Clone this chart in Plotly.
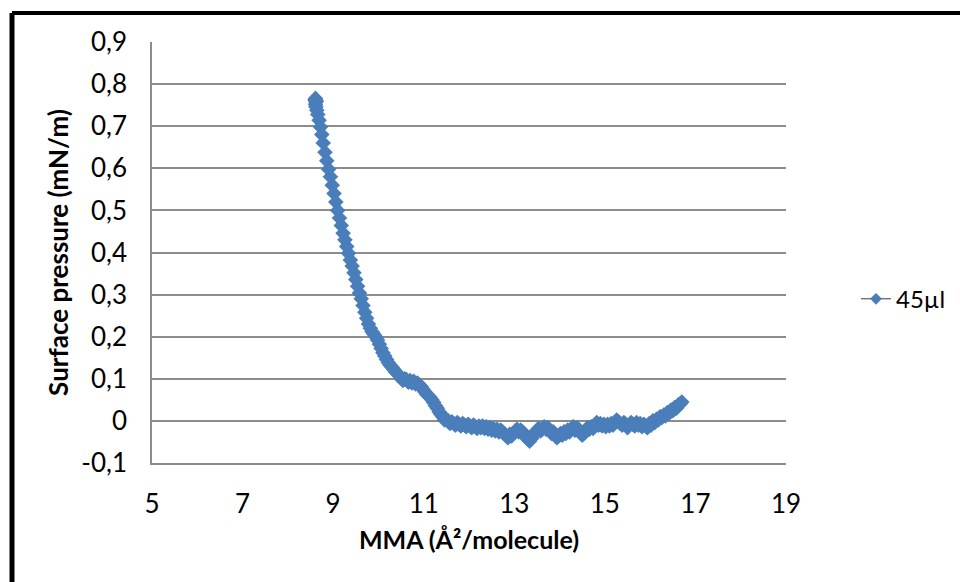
import plotly.graph_objects as go

# MMA (Å²/molecule), compression from large to small area
mma = [16.70, 16.66, 16.62, 16.58, 16.54, 16.50, 16.46, 16.42, 16.38, 16.34,
       16.30, 16.26, 16.22, 16.18, 16.14, 16.10, 16.06, 16.02, 15.98, 15.94,
       15.90, 15.86, 15.82, 15.78, 15.74, 15.70, 15.66, 15.62, 15.58, 15.54,
       15.50, 15.46, 15.42, 15.38, 15.34, 15.30, 15.26, 15.22, 15.18, 15.14,
       15.10, 15.06, 15.02, 14.98, 14.94, 14.90, 14.86, 14.82, 14.78, 14.74,
       14.70, 14.66, 14.62, 14.58, 14.54, 14.50, 14.46, 14.42, 14.38, 14.34,
       14.30, 14.26, 14.22, 14.18, 14.14, 14.10, 14.06, 14.02, 13.98, 13.94,
       13.90, 13.86, 13.82, 13.78, 13.74, 13.70, 13.66, 13.62, 13.58, 13.54,
       13.50, 13.46, 13.42, 13.38, 13.34, 13.30, 13.26, 13.22, 13.18, 13.14,
       13.10, 13.06, 13.02, 12.98, 12.94, 12.90, 12.86, 12.82, 12.78, 12.74,
       12.70, 12.66, 12.62, 12.58, 12.54, 12.50, 12.46, 12.42, 12.38, 12.34,
       12.30, 12.26, 12.22, 12.18, 12.14, 12.10, 12.06, 12.02, 11.98, 11.94,
       11.90, 11.86, 11.82, 11.78, 11.74, 11.70, 11.66, 11.62, 11.58, 11.54,
       11.50, 11.46, 11.42, 11.38, 11.34, 11.30, 11.26, 11.22, 11.18, 11.14,
       11.10, 11.06, 11.02, 10.98, 10.94, 10.90, 10.86, 10.82, 10.78, 10.74,
       10.70, 10.66, 10.62, 10.58, 10.54, 10.50, 10.46, 10.42, 10.38, 10.34,
       10.30, 10.26, 10.22, 10.18, 10.14, 10.10, 10.06, 10.02, 9.98, 9.94,
       9.90, 9.86, 9.82, 9.78, 9.74, 9.70, 9.66, 9.62, 9.58, 9.54,
       9.50, 9.46, 9.42, 9.38, 9.34, 9.30, 9.26, 9.22, 9.18, 9.14,
       9.10, 9.06, 9.02, 8.98, 8.94, 8.90, 8.86, 8.82, 8.78, 8.75,
       8.72, 8.69, 8.66, 8.64, 8.62, 8.61, 8.62, 8.60, 8.61, 8.63]

# Surface pressure (mN/m)
pressure = [0.045, 0.040, 0.038, 0.030, 0.032, 0.024, 0.026, 0.018, 0.020, 0.012,
            0.014, 0.008, 0.010, 0.002, 0.004, -0.004, 0.000, -0.010, -0.006, -0.016,
            -0.012, -0.008, -0.014, -0.006, -0.010, -0.004, -0.012, -0.008, -0.004, -0.010,
            -0.016, -0.008, -0.004, -0.010, -0.006, -0.002, 0.002, -0.004, -0.010, -0.006,
            -0.012, -0.008, -0.014, -0.008, -0.012, -0.006, -0.010, -0.004, -0.012, -0.018,
            -0.014, -0.020, -0.016, -0.024, -0.030, -0.034, -0.026, -0.020, -0.016, -0.022,
            -0.014, -0.020, -0.026, -0.022, -0.030, -0.026, -0.034, -0.030, -0.036, -0.040,
            -0.032, -0.026, -0.030, -0.022, -0.016, -0.020, -0.014, -0.020, -0.024, -0.018,
            -0.022, -0.028, -0.034, -0.042, -0.048, -0.044, -0.038, -0.030, -0.026, -0.022,
            -0.026, -0.020, -0.024, -0.030, -0.036, -0.032, -0.040, -0.036, -0.030, -0.026,
            -0.022, -0.026, -0.020, -0.024, -0.018, -0.022, -0.016, -0.020, -0.014, -0.018,
            -0.012, -0.016, -0.012, -0.018, -0.014, -0.010, -0.016, -0.012, -0.008, -0.014,
            -0.010, -0.006, -0.012, -0.008, -0.004, -0.010, -0.006, -0.002, -0.006, 0.000,
            0.004, 0.002, 0.010, 0.016, 0.022, 0.030, 0.036, 0.044, 0.050, 0.056,
            0.060, 0.064, 0.070, 0.076, 0.082, 0.086, 0.090, 0.088, 0.094, 0.090,
            0.096, 0.092, 0.098, 0.100, 0.096, 0.102, 0.108, 0.112, 0.116, 0.122,
            0.128, 0.132, 0.138, 0.146, 0.154, 0.162, 0.172, 0.182, 0.192, 0.200,
            0.206, 0.212, 0.220, 0.230, 0.244, 0.258, 0.274, 0.290, 0.304, 0.320,
            0.336, 0.352, 0.368, 0.382, 0.398, 0.414, 0.430, 0.446, 0.464, 0.482,
            0.500, 0.520, 0.540, 0.560, 0.580, 0.598, 0.618, 0.638, 0.660, 0.680,
            0.698, 0.714, 0.728, 0.738, 0.746, 0.752, 0.758, 0.762, 0.766, 0.760]

series_name = "45µl"
x_ticks = [5, 7, 9, 11, 13, 15, 17, 19]
y_ticks = [-0.1, 0, 0.1, 0.2, 0.3, 0.4, 0.5, 0.6, 0.7, 0.8, 0.9]
y_tick_text = ["-0,1", "0", "0,1", "0,2", "0,3", "0,4", "0,5", "0,6", "0,7", "0,8", "0,9"]

W, H = 960, 582
L, R, T, B = 152, 786, 41.5, 463
blue = "#4A7EBB"
grid = "#8C8C8C"
font_family = "Lato, 'Open Sans', sans-serif"

fig = go.Figure()
fig.add_trace(go.Scatter(
    x=mma, y=pressure, mode="lines+markers", name=series_name, showlegend=False,
    line=dict(color=blue, width=5),
    marker=dict(symbol="diamond", size=12, color=blue, line=dict(width=0)),
))
# legend entry (thin dark line with small diamond, as in the reference)
fig.add_trace(go.Scatter(
    x=[None], y=[None], mode="lines+markers", name=series_name, showlegend=True,
    line=dict(color="#3A3A3A", width=1),
    marker=dict(symbol="diamond", size=9, color=blue, line=dict(width=0)),
))

def px_x(p):
    return (p - L) / (R - L)

def px_y(p):
    return (B - p) / (B - T)

# outer black frame (visible on top and left)
fig.add_shape(type="line", xref="paper", yref="paper",
              x0=px_x(12), x1=px_x(1200), y0=px_y(12.5), y1=px_y(12.5),
              line=dict(color="black", width=4))
fig.add_shape(type="line", xref="paper", yref="paper",
              x0=px_x(12), x1=px_x(12), y0=px_y(12.5), y1=px_y(900),
              line=dict(color="black", width=5))

fig.update_layout(
    width=W, height=H,
    margin=dict(l=L, r=W - R, t=T, b=H - B, autoexpand=False),
    paper_bgcolor="white", plot_bgcolor="white",
    font=dict(family=font_family, size=26, color="black"),
    showlegend=True,
    legend=dict(x=px_x(856), y=px_y(299), xanchor="left", yanchor="middle",
                font=dict(size=24), bgcolor="rgba(0,0,0,0)"),
    xaxis=dict(range=[5, 19], tickvals=x_ticks, ticktext=[str(v) for v in x_ticks],
               showgrid=False, zeroline=False, showline=True, linecolor=grid, linewidth=1.5,
               ticks="", ticklabelstandoff=17, tickfont=dict(size=26),
               title=dict(text="<b>MMA (Å²/molecule)</b>", standoff=14, font=dict(size=25))),
    yaxis=dict(range=[-0.1, 0.9], tickvals=y_ticks, ticktext=y_tick_text,
               showgrid=True, gridcolor=grid, gridwidth=1.5, zeroline=False,
               showline=True, linecolor=grid, linewidth=1.5,
               ticks="", ticklabelstandoff=18, tickfont=dict(size=26),
               title=dict(text="<b>Surface pressure (mN/m)</b>", standoff=5, font=dict(size=26))),
)

fig.write_html("out.html")
